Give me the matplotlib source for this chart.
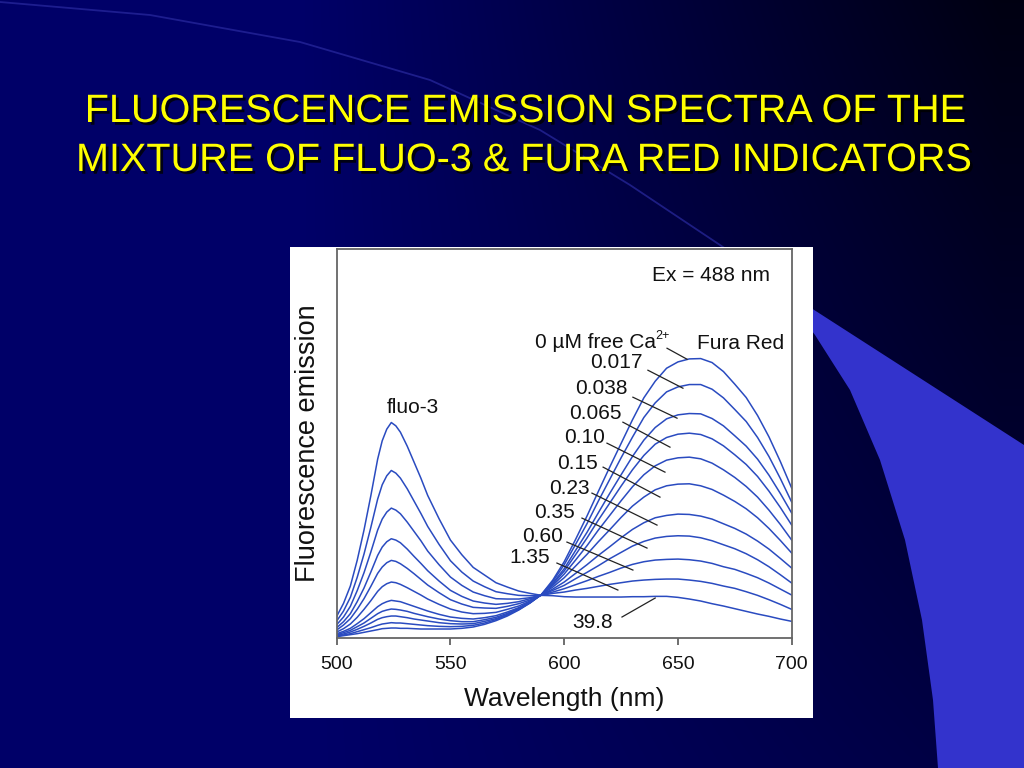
import numpy as np
import matplotlib
matplotlib.use("Agg")
import matplotlib.pyplot as plt
import matplotlib.patheffects as pe
from matplotlib.patches import Polygon, Rectangle

plt.rcParams['font.family'] = ['Liberation Sans', 'DejaVu Sans']

# wavelength grid (nm)
wavelength = [500, 503, 506, 509, 512, 515, 518, 520, 522, 524, 526, 528, 531, 534, 537, 540,
              545, 550, 555, 560, 565, 570, 575, 580, 585, 590,
              595, 600, 605, 610, 615, 620, 625, 630, 635, 640, 645, 650,
              655, 660, 665, 670, 675, 680, 685, 690, 695, 700]

# emission (arbitrary units), one list per free Ca2+ level (uM)
em_0 = [4, 7, 10, 13, 17, 21, 25, 28, 29, 30, 30, 29, 29, 28, 27, 27,
        27, 27, 29, 33, 41, 52, 66, 84, 105, 131,
        174, 229, 296, 366, 440, 513, 584, 655, 721, 771, 810, 829,
        838, 839, 827, 800, 762, 722, 668, 604, 530, 450]
em_0017 = [6, 9, 13, 19, 25, 31, 38, 42, 44, 46, 45, 45, 43, 41, 39, 37,
           35, 34, 35, 38, 45, 55, 69, 85, 106, 130,
           170, 220, 281, 343, 411, 476, 541, 603, 662, 706, 739, 754,
           761, 761, 747, 721, 686, 650, 602, 545, 479, 408]
em_0038 = [8, 12, 18, 26, 35, 45, 56, 61, 64, 66, 66, 64, 61, 57, 54, 51,
           46, 43, 42, 43, 50, 58, 71, 87, 106, 130,
           165, 208, 263, 317, 376, 434, 490, 545, 594, 632, 658, 670,
           674, 673, 659, 637, 607, 576, 537, 489, 434, 375]
em_0065 = [10, 16, 23, 34, 45, 59, 73, 80, 84, 87, 86, 84, 80, 74, 69, 64,
           57, 52, 49, 49, 55, 62, 74, 89, 108, 130,
           162, 201, 250, 300, 354, 405, 456, 505, 548, 582, 602, 612,
           615, 611, 598, 577, 550, 521, 485, 441, 392, 339]
em_010 = [13, 20, 29, 43, 58, 76, 94, 103, 109, 113, 111, 109, 102, 95, 88, 81,
          71, 63, 59, 57, 61, 67, 78, 91, 109, 130,
          158, 192, 234, 277, 324, 368, 412, 454, 490, 517, 534, 541,
          543, 538, 525, 505, 482, 455, 423, 384, 341, 294]
em_015 = [18, 28, 42, 62, 86, 112, 140, 154, 163, 168, 166, 161, 151, 140, 129, 117,
          101, 87, 78, 73, 74, 77, 86, 96, 111, 130,
          153, 181, 216, 251, 289, 325, 362, 396, 423, 445, 457, 462,
          463, 457, 446, 429, 410, 388, 361, 329, 293, 255]
em_023 = [24, 39, 58, 86, 118, 155, 194, 213, 226, 233, 230, 223, 209, 193, 176, 159,
          136, 115, 102, 92, 90, 89, 95, 103, 114, 129,
          147, 168, 194, 220, 248, 274, 301, 326, 346, 361, 368, 372,
          371, 366, 357, 343, 329, 312, 291, 267, 239, 210]
em_035 = [31, 49, 73, 109, 150, 198, 248, 273, 289, 298, 294, 286, 267, 245, 224, 202,
          171, 143, 125, 111, 105, 101, 104, 109, 118, 129,
          143, 158, 178, 197, 217, 238, 257, 276, 290, 300, 305, 307,
          306, 301, 292, 280, 268, 253, 235, 214, 190, 165]
em_060 = [40, 63, 95, 142, 196, 258, 324, 357, 378, 390, 384, 373, 348, 320, 292, 261,
          220, 183, 158, 138, 127, 118, 117, 117, 121, 129,
          138, 148, 160, 172, 185, 197, 210, 221, 229, 234, 236, 237,
          235, 231, 224, 214, 206, 194, 181, 165, 147, 129]
em_135 = [51, 81, 122, 182, 252, 332, 417, 460, 487, 503, 495, 480, 448, 411, 374, 335,
          281, 232, 198, 171, 154, 139, 133, 128, 127, 128,
          134, 138, 144, 149, 155, 161, 166, 171, 174, 176, 177, 177,
          174, 170, 164, 156, 149, 139, 128, 115, 101, 86]
em_398 = [65, 104, 156, 233, 324, 427, 537, 592, 627, 647, 637, 618, 576, 528, 480, 428,
          358, 294, 250, 212, 189, 166, 153, 141, 134, 128,
          127, 124, 123, 123, 123, 123, 123, 124, 124, 125, 125, 122,
          117, 111, 103, 96, 88, 80, 72, 65, 57, 50]

ca_labels = ['0.017', '0.038', '0.065', '0.10', '0.15', '0.23', '0.35', '0.60', '1.35']
spectra = [em_0, em_0017, em_0038, em_0065, em_010, em_015, em_023, em_035, em_060, em_135, em_398]

W, H = 1024, 768
fig = plt.figure(figsize=(W / 100, H / 100), dpi=100)

# slide background, in pixel coordinates
bg = fig.add_axes([0, 0, 1, 1])
bg.set_xlim(0, W)
bg.set_ylim(H, 0)
bg.axis('off')
yy, xx = np.mgrid[0:H, 0:W]
t = np.clip((xx - 300) / 700, 0, 1)
blue = 0.41 - 0.34 * t * (1 - 0.55 * yy / H)
img = np.dstack([np.zeros_like(blue), np.zeros_like(blue), blue])
bg.imshow(img, extent=(0, W, H, 0), aspect='auto', zorder=0)

arc_x = [0, 150, 300, 430, 540, 630, 720, 800]
arc_y = [2, 15, 42, 80, 130, 185, 245, 300]
bg.plot(arc_x, arc_y, color='#2a2aa0', lw=1.3, alpha=0.7, zorder=1)

band = Polygon([(780, 288), (1024, 445), (1024, 768), (938, 768), (933, 700), (922, 620),
                (905, 540), (880, 460), (850, 390), (815, 335)],
               closed=True, facecolor='#3333cc', edgecolor='none', zorder=2)
bg.add_patch(band)
bg.add_patch(Rectangle((290, 247), 523, 471, facecolor='white', edgecolor='none', zorder=3))

shadow = [pe.withSimplePatchShadow(offset=(2, -2), shadow_rgbFace='black', alpha=0.8)]
bg.text(526, 111, 'FLUORESCENCE EMISSION SPECTRA OF THE', color='#ffff00', fontsize=28.5,
        ha='center', va='center', path_effects=shadow, zorder=4)
bg.text(524, 160, 'MIXTURE OF FLUO-3 & FURA RED INDICATORS', color='#ffff00', fontsize=28.5,
        ha='center', va='center', path_effects=shadow, zorder=4)

# the spectra panel
ax = fig.add_axes([336.7 / W, (H - 638) / H, 455 / W, 389 / H], zorder=5)
ax.set_facecolor('none')
for em in spectra:
    ax.plot(wavelength, em, color='#2a4bc0', lw=1.1)

ax.set_xlim(500, 700)
ax.set_ylim(0, 1168)
ax.set_xticks([500, 550, 600, 650, 700])
ax.set_yticks([])
ax.tick_params(axis='x', direction='out', length=5, width=1.2, color='#555555',
               labelsize=14, pad=8, labelcolor='#111111')
for s in ax.spines.values():
    s.set_color('#666666')
    s.set_linewidth(1.3)
ax.set_xlabel('Wavelength (nm)', fontsize=19, color='#111111')
ax.xaxis.set_label_coords(0.5, -0.126)
ax.set_ylabel('Fluorescence emission', fontsize=19.5, color='#111111')
ax.yaxis.set_label_coords(-0.035, 0.5)

txt = dict(fontsize=15, color='#111111', va='center')
ax.text(690.5, 1089, 'Ex = 488 nm', ha='right', **txt)
ax.text(533.5, 693, 'fluo-3', ha='center', **txt)
sup = ax.text(646.5, 906, '2+', ha='right', va='center', fontsize=9, color='#111111')
ax.annotate('0 µM free Ca', xy=(0, 0.0), xycoords=sup, ha='right', va='center',
            fontsize=15, color='#111111')
ax.text(658.4, 885, 'Fura Red', ha='left', **txt)
ax.text(621.5, 48, '39.8', ha='right', **txt)

label_pos = [(634.6, 828), (628.0, 750), (625.4, 675), (617.9, 603), (614.8, 525),
             (611.3, 450), (604.7, 378), (599.5, 306), (593.8, 243)]
for lab, (lx, ly) in zip(ca_labels, label_pos):
    ax.text(lx, ly, lab, ha='right', **txt)

leaders = [((645.2, 870), (654.0, 837)), ((636.8, 804), (652.2, 750)),
           ((630.2, 723), (649.6, 660)), ((625.8, 648), (646.5, 573)),
           ((618.8, 585), (644.3, 498)), ((617.1, 513), (642.1, 423)),
           ((612.2, 435), (640.8, 339)), ((607.8, 360), (636.4, 270)),
           ((601.2, 288), (630.2, 204)), ((596.8, 225), (623.6, 144)),
           ((625.4, 63), (640.0, 120))]
for (x0, y0), (x1, y1) in leaders:
    ax.plot([x0, x1], [y0, y1], color='#222222', lw=0.9)

fig.savefig('out.png', dpi=100)
